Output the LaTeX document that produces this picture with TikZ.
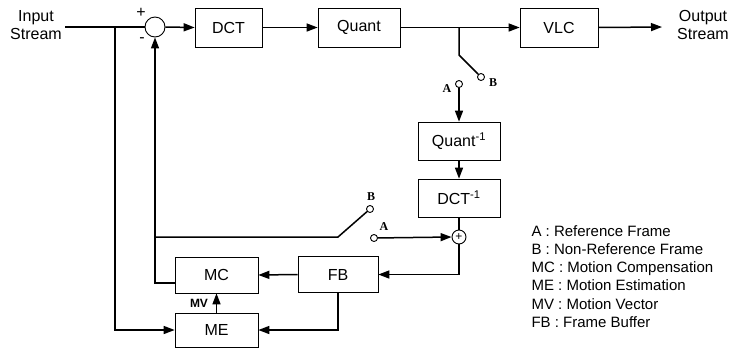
\documentclass[tikz,border=0pt]{standalone}
\usepackage{fontspec}
\setmainfont{Liberation Sans}
\newfontfamily\labfont{Liberation Serif}
\usetikzlibrary{arrows.meta}

\begin{document}
\begin{tikzpicture}[x=1pt,y=-1pt,font=\fontsize{16}{18}\selectfont,
  blk/.style={draw,line width=0.7pt,inner sep=0pt},
  con/.style={line width=1.5pt},
  arr/.style={con,-{Triangle[length=11pt,width=8pt]}},
  contact/.style={draw,circle,line width=0.9pt,inner sep=0pt,minimum size=7pt,fill=white},
  sw/.style={font=\labfont\bfseries\fontsize{12}{13}\selectfont}]
\useasboundingbox (0,0) rectangle (737,349);
% forward path
\node[align=center] (in) at (36,25) {Input\\Stream};
\node[draw,circle,line width=0.9pt,minimum size=20pt,inner sep=0pt] (sum) at (155,27) {};
\node at (141,13) {+};
\node at (142,40) {-};
\node[blk,minimum width=67pt,minimum height=39pt] (dct) at (228.5,27.5) {DCT};
\node[blk,minimum width=82pt,minimum height=39pt] (quant) at (359,27.5) {Quant};
\node[blk,minimum width=78pt,minimum height=39pt] (vlc) at (559,27.5) {VLC};
\node[align=center] (out) at (703,25) {Output\\Stream};
\coordinate (outend) at (662,27);
% inverse path
\node[blk,minimum width=82pt,minimum height=38pt] (iquant) at (459,141) {Quant\textsuperscript{-1}};
\node[blk,minimum width=82pt,minimum height=38pt] (idct) at (459,198) {DCT\textsuperscript{-1}};
\node[draw,circle,line width=0.9pt,minimum size=14pt,inner sep=0pt,font=\fontsize{12}{12}\selectfont] (add) at (459,237) {+};
\node[blk,minimum width=83pt,minimum height=36pt] (mc) at (216.5,275) {MC};
\node[blk,minimum width=80pt,minimum height=36pt] (fb) at (338,274.5) {FB};
\node[blk,minimum width=83pt,minimum height=34pt] (me) at (216.5,330) {ME};
\node[font=\bfseries\fontsize{12}{12}\selectfont] (mv) at (199,303) {MV};
% switches
\coordinate (tap) at (459,27);
\coordinate (topknee) at (459,55);
\node[contact] (topB) at (481,77) {};
\node[contact] (topA) at (459,84) {};
\node[sw] at (493,83) {B};
\node[sw] at (447,89) {A};
\coordinate (split) at (115,27);
\coordinate (join) at (155,237);
\coordinate (lowknee) at (338,237);
\node[contact] (lowB) at (370,209) {};
\node[contact] (lowA) at (374,238) {};
\node[sw] at (371,197) {B};
\node[sw] at (384,227) {A};
% connectors
\draw[con] (in.east |- split) -- (sum.west);
\draw[arr] (sum.east) -- (dct.west);
\draw[arr] (dct.east) -- (quant.west);
\draw[arr] (quant.east) -- (vlc.west);
\draw[arr] (vlc.east) -- (outend);
\draw[con] (tap) -- (topknee) -- (topB);
\draw[arr] (topA) -- (iquant.north);
\draw[arr] (iquant) -- (idct);
\draw[con] (idct) -- (add);
\draw[arr] (lowA) -- (add.west);
\draw[arr] (add.south) |- (fb.east);
\draw[arr] (fb.west) -- (mc.east);
\draw[arr] (fb.south) |- (me.east);
\draw[arr] (me.north) -- (mc.south);
\draw[arr] (split) |- (me.west);
\draw[arr] ([yshift=-8pt]mc.west) -| (sum.south);
\draw[con] (join) -- (lowknee) -- (lowB);
% legend
\node[anchor=north west,align=left,font=\fontsize{15}{18.2}\selectfont] (key) at (528,222)
  {A : Reference Frame\\B : Non-Reference Frame\\MC : Motion Compensation\\ME : Motion Estimation\\MV : Motion Vector\\FB : Frame Buffer};
\end{tikzpicture}
\end{document}
